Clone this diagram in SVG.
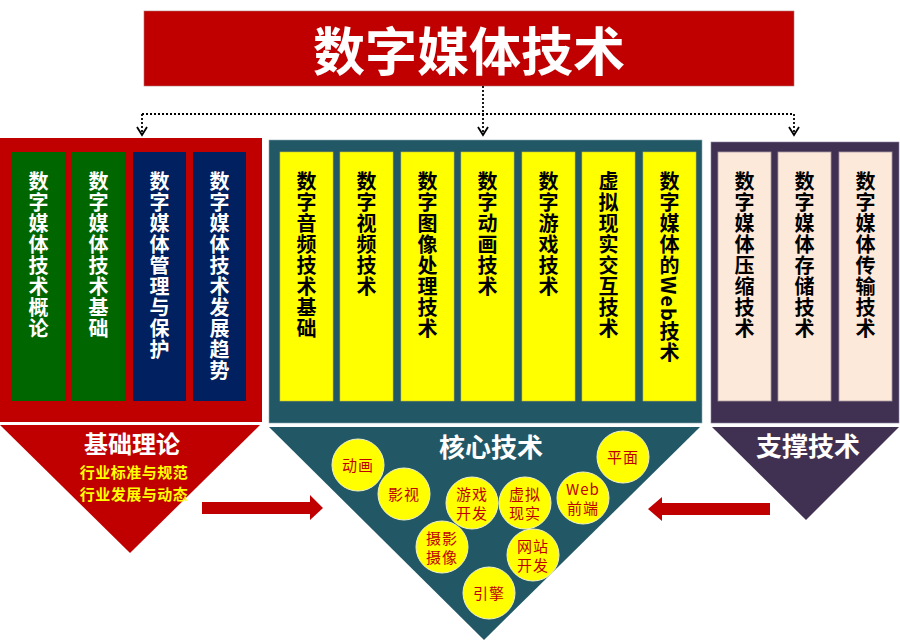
<svg xmlns="http://www.w3.org/2000/svg" width="900" height="642" viewBox="0 0 900 642">
<defs>
<style>
.cjk{font-family:"Noto Sans CJK SC","Noto Sans",sans-serif;}
.vt{font-family:"Noto Sans CJK SC","Noto Sans",sans-serif;font-size:20px;font-weight:bold;writing-mode:vertical-rl;letter-spacing:1px;}
.vw{fill:#ffffff;}
.vb{fill:#000000;}
.colY{fill:#ffff00;stroke:#c8c040;stroke-width:0.6;}
.colP{fill:#fde9d9;stroke:#a89aa0;stroke-width:0.8;}
.colG{fill:#006600;}
.colN{fill:#002060;}
.circ{fill:#ffff00;stroke:#f0f0c8;stroke-width:1;}
.ct{font-family:"Noto Sans CJK SC","Noto Sans",sans-serif;font-size:15px;fill:#c00000;text-anchor:middle;letter-spacing:1px;}
.dot{fill:none;stroke:#000;stroke-width:1.8;stroke-dasharray:2,2;}
.head{fill:none;stroke:#000;stroke-width:1.8;}
.lab{font-family:"Noto Sans CJK SC","Noto Sans",sans-serif;font-weight:bold;fill:#fff;text-anchor:middle;}
.sub{font-family:"Noto Sans CJK SC","Noto Sans",sans-serif;font-size:15px;font-weight:bold;fill:#ffff00;text-anchor:middle;letter-spacing:0.5px;}
</style>
</defs>
<rect width="900" height="642" fill="#ffffff"/>

<g id="title">
<rect x="144" y="11" width="650" height="75" fill="#c00000" stroke="#b07070" stroke-width="0.6"/>
<text x="469" y="71" class="lab" font-size="52">数字媒体技术</text>
</g>

<g id="connectors">
<path class="dot" d="M483,86 V114 M142,114 H794 M142,114 V132 M483,114 V132 M794,114 V132"/>
<path class="head" d="M137,127 L142,135 L147,127 M478,127 L483,135 L488,127 M789,127 L794,135 L799,127"/>
<polygon points="202,502 310,502 310,495 323,508 310,520 310,514 202,514" fill="#c00000"/>
<polygon points="770,503 662,503 662,497 648,509 662,521 662,515 770,515" fill="#c00000"/>
</g>

<g id="basic">
<rect x="0" y="138" width="262" height="284" fill="#c00000"/>
<rect x="12" y="152" width="53" height="249" class="colG"/>
<rect x="72" y="152" width="53" height="249" class="colG"/>
<rect x="133" y="152" width="53" height="249" class="colN"/>
<rect x="193" y="152" width="53" height="249" class="colN"/>
<text x="38.5" y="171" class="vt vw">数字媒体技术概论</text>
<text x="98.5" y="171" class="vt vw">数字媒体技术基础</text>
<text x="159.5" y="171" class="vt vw">数字媒体管理与保护</text>
<text x="219.5" y="171" class="vt vw">数字媒体技术发展趋势</text>
<polygon points="0,425 260,425 130,553" fill="#c00000"/>
<text x="132" y="453" class="lab" font-size="24">基础理论</text>
<text x="134" y="478" class="sub">行业标准与规范</text>
<text x="134" y="500" class="sub">行业发展与动态</text>
</g>

<g id="core">
<rect x="269" y="140" width="433" height="283" fill="#225866" stroke="#8aa8b0" stroke-width="0.6"/>
<rect x="280" y="152" width="53" height="249" class="colY"/>
<rect x="340" y="152" width="53" height="249" class="colY"/>
<rect x="401" y="152" width="53" height="249" class="colY"/>
<rect x="461" y="152" width="53" height="249" class="colY"/>
<rect x="522" y="152" width="53" height="249" class="colY"/>
<rect x="582" y="152" width="53" height="249" class="colY"/>
<rect x="643" y="152" width="53" height="249" class="colY"/>
<text x="306.5" y="171" class="vt vb">数字音频技术基础</text>
<text x="366.5" y="171" class="vt vb">数字视频技术</text>
<text x="427.5" y="171" class="vt vb">数字图像处理技术</text>
<text x="487.5" y="171" class="vt vb">数字动画技术</text>
<text x="548.5" y="171" class="vt vb">数字游戏技术</text>
<text x="608.5" y="171" class="vt vb">虚拟现实交互技术</text>
<text x="669.5" y="171" class="vt vb">数字媒体的Web技术</text>
<polygon points="269,427 700,427 484,640" fill="#225866"/>
<text x="491" y="457" class="lab" font-size="26">核心技术</text>
<circle cx="358" cy="465" r="26" class="circ"/>
<circle cx="404" cy="494" r="26" class="circ"/>
<circle cx="472" cy="503" r="26" class="circ"/>
<circle cx="525" cy="503" r="26" class="circ"/>
<circle cx="583" cy="498" r="26" class="circ"/>
<circle cx="623" cy="457" r="26" class="circ"/>
<circle cx="442" cy="547" r="26" class="circ"/>
<circle cx="533" cy="555" r="26" class="circ"/>
<circle cx="489" cy="593" r="26" class="circ"/>
<text x="358" y="471" class="ct">动画</text>
<text x="404" y="500" class="ct">影视</text>
<text x="472" y="500" class="ct">游戏</text>
<text x="472" y="519" class="ct">开发</text>
<text x="525" y="500" class="ct">虚拟</text>
<text x="525" y="519" class="ct">现实</text>
<text x="583" y="495" class="ct" font-family="Liberation Serif,serif">Web</text>
<text x="583" y="514" class="ct">前端</text>
<text x="623" y="463" class="ct">平面</text>
<text x="442" y="544" class="ct">摄影</text>
<text x="442" y="563" class="ct">摄像</text>
<text x="533" y="552" class="ct">网站</text>
<text x="533" y="571" class="ct">开发</text>
<text x="489" y="599" class="ct">引擎</text>
</g>

<g id="support">
<rect x="711" y="142" width="188" height="281" fill="#403152" stroke="#8a80a0" stroke-width="0.6"/>
<rect x="718" y="152" width="53" height="249" class="colP"/>
<rect x="778" y="152" width="53" height="249" class="colP"/>
<rect x="839" y="152" width="53" height="249" class="colP"/>
<text x="744.5" y="171" class="vt vb">数字媒体压缩技术</text>
<text x="804.5" y="171" class="vt vb">数字媒体存储技术</text>
<text x="865.5" y="171" class="vt vb">数字媒体传输技术</text>
<polygon points="712,427 899,427 806,520" fill="#403152"/>
<text x="808" y="456" class="lab" font-size="26">支撑技术</text>
</g>
</svg>
